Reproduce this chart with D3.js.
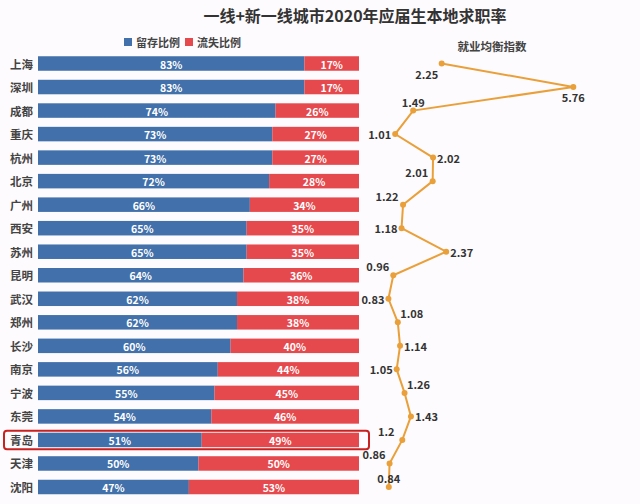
<!DOCTYPE html>
<html>
<head>
<meta charset="utf-8">
<script src="https://cdn.jsdelivr.net/npm/d3@7/dist/d3.min.js"></script>
<style>
  html, body { margin: 0; padding: 0; background: #fdfbfd; }
  svg { display: block; }
  text { font-family: "Noto Sans CJK SC", "Noto Sans", sans-serif; }
</style>
</head>
<body>
<svg id="chart" width="640" height="504"></svg>
<script>
// ---- data ----
const title = "一线+新一线城市2020年应届生本地求职率";
const seriesNames = ["留存比例", "流失比例"];
const lineTitle = "就业均衡指数";
const cities = ["上海","深圳","成都","重庆","杭州","北京","广州","西安","苏州","昆明","武汉","郑州","长沙","南京","宁波","东莞","青岛","天津","沈阳"];
const stayRate = [83,83,74,73,73,72,66,65,65,64,62,62,60,56,55,54,51,50,47];
const lossRate = [17,17,26,27,27,28,34,35,35,36,38,38,40,44,45,46,49,50,53];
const balanceIndex = [2.25,5.76,1.49,1.01,2.02,2.01,1.22,1.18,2.37,0.96,0.83,1.08,1.14,1.05,1.26,1.43,1.2,0.86,0.84];
const highlightCity = "青岛";

// ---- drawing ----
const svg = d3.select("#chart");
const colors = { stay: "#4170aa", loss: "#e6494d", line: "#e9a03a", text: "#333" };

const y = d3.scalePoint().domain(cities).range([63.5, 487]);
const barH = 14.5;
const xBar = d3.scaleLinear().domain([0, 100]).range([38, 359]);
const xLine = d3.scaleLinear().domain([0, 6]).range([357.3, 582.3]);

// title
svg.append("text").attr("x", 355).attr("y", 15).attr("text-anchor", "middle")
  .attr("dominant-baseline", "central").attr("font-size", 16).attr("font-weight", "bold")
  .attr("fill", colors.text).text(title);

// legend
const legend = svg.append("g").attr("transform", "translate(124,42)");
const legX = [0, 61];
[colors.stay, colors.loss].forEach((c, i) => {
  legend.append("rect").attr("x", legX[i]).attr("y", -4).attr("width", 8).attr("height", 8).attr("fill", c);
  legend.append("text").attr("x", legX[i] + 12).attr("y", 0).attr("dominant-baseline", "central")
    .attr("font-size", 11).attr("font-weight", "bold").attr("fill", "#444").text(seriesNames[i]);
});

// line title
svg.append("text").attr("x", 492).attr("y", 46).attr("text-anchor", "middle")
  .attr("dominant-baseline", "central").attr("font-size", 11.5).attr("font-weight", "bold")
  .attr("fill", "#444").text(lineTitle);

// city labels
svg.append("g").selectAll("text").data(cities).join("text")
  .attr("x", 33).attr("y", d => y(d)).attr("text-anchor", "end").attr("dominant-baseline", "central")
  .attr("font-size", 11.5).attr("font-weight", "bold").attr("fill", "#444").text(d => d);

// bars
const rows = cities.map((c, i) => ({ city: c, stay: stayRate[i], loss: lossRate[i] }));
const barG = svg.append("g");
barG.selectAll("rect.stay").data(rows).join("rect").attr("class", "stay")
  .attr("x", xBar(0)).attr("y", d => y(d.city) - barH / 2)
  .attr("width", d => xBar(d.stay) - xBar(0)).attr("height", barH).attr("fill", colors.stay);
barG.selectAll("rect.loss").data(rows).join("rect").attr("class", "loss")
  .attr("x", d => xBar(d.stay)).attr("y", d => y(d.city) - barH / 2)
  .attr("width", d => xBar(d.stay + d.loss) - xBar(d.stay)).attr("height", barH).attr("fill", colors.loss);
barG.selectAll("text.stay").data(rows).join("text").attr("class", "stay")
  .attr("x", d => (xBar(0) + xBar(d.stay)) / 2).attr("y", d => y(d.city) + 0.5)
  .attr("text-anchor", "middle").attr("dominant-baseline", "central")
  .attr("font-size", 10.5).attr("font-weight", "bold").attr("fill", "#fff").text(d => d.stay + "%");
barG.selectAll("text.loss").data(rows).join("text").attr("class", "loss")
  .attr("x", d => (xBar(d.stay) + xBar(d.stay + d.loss)) / 2).attr("y", d => y(d.city) + 0.5)
  .attr("text-anchor", "middle").attr("dominant-baseline", "central")
  .attr("font-size", 10.5).attr("font-weight", "bold").attr("fill", "#fff").text(d => d.loss + "%");

// highlight box
svg.append("rect").attr("x", 4).attr("y", y(highlightCity) - barH / 2 - 2)
  .attr("width", 365).attr("height", barH + 4).attr("rx", 3)
  .attr("fill", "none").attr("stroke", "#c9211f").attr("stroke-width", 2);

// line
const pts = cities.map((c, i) => ({ city: c, v: balanceIndex[i] }));
svg.append("path").datum(pts)
  .attr("d", d3.line().x(d => xLine(d.v)).y(d => y(d.city)))
  .attr("fill", "none").attr("stroke", colors.line).attr("stroke-width", 2);
svg.append("g").selectAll("circle").data(pts).join("circle")
  .attr("cx", d => xLine(d.v)).attr("cy", d => y(d.city)).attr("r", 3).attr("fill", colors.line);

// label placement (style): [dx, dy, anchor]
const place = {
  bl: [-15, 10, "middle"], b: [0, 10, "middle"], t: [0, -9, "middle"],
  l: [-4, 0, "end"], r: [4, 0, "start"], tl: [-16, -9, "middle"], tr: [14, -9, "middle"],
  tle: [-4, -9, "end"]
};
const labelPlace = ["bl","b","t","l","r","tl","tl","l","r","tle","l","tr","r","l","tr","r","tl","tle","t"];
svg.append("g").selectAll("text").data(pts).join("text")
  .attr("x", (d, i) => xLine(d.v) + place[labelPlace[i]][0])
  .attr("y", (d, i) => y(d.city) + place[labelPlace[i]][1])
  .attr("text-anchor", (d, i) => place[labelPlace[i]][2])
  .attr("dominant-baseline", "central")
  .attr("font-size", 11).attr("font-weight", "bold").attr("fill", "#333").text(d => d.v);
</script>
</body>
</html>
